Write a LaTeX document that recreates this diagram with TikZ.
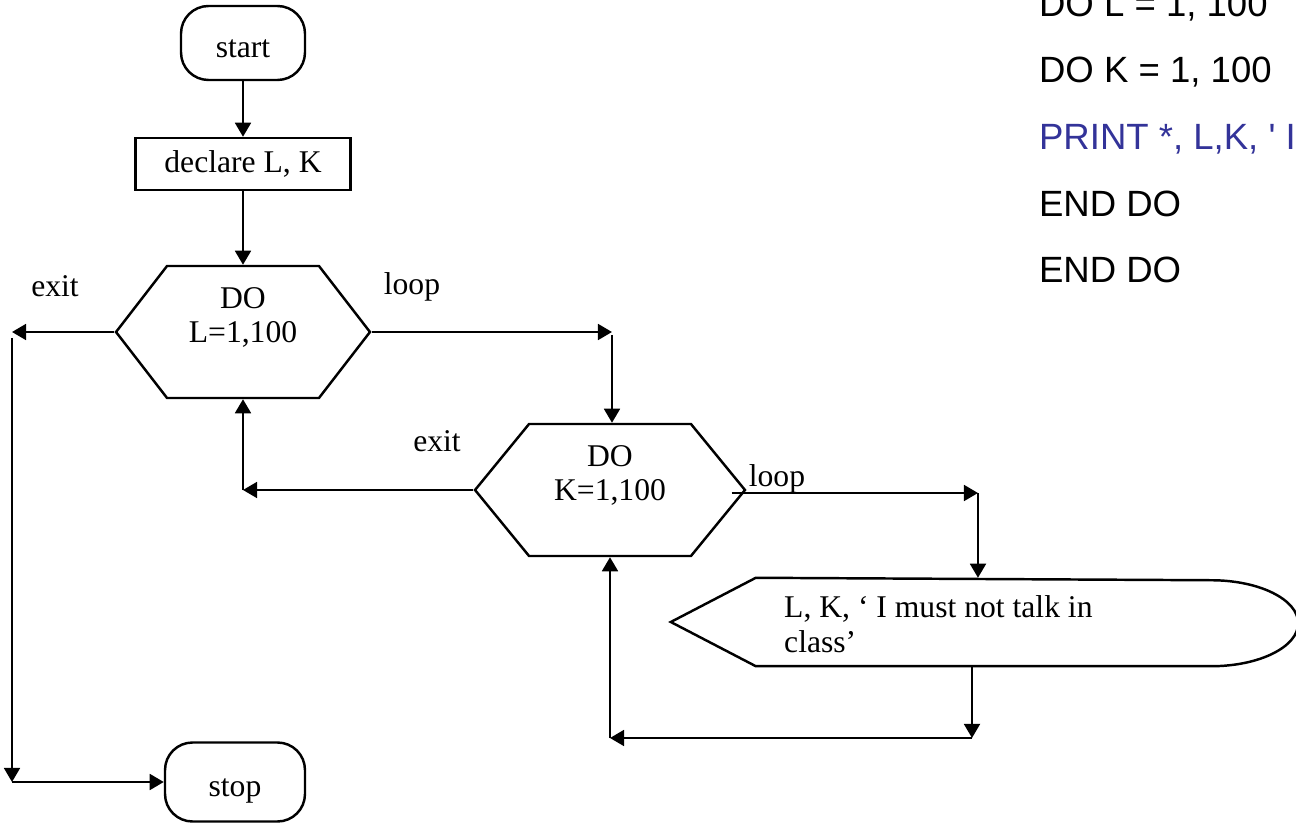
\documentclass[tikz,border=0pt]{standalone}
\usepackage{fontspec}
\setmainfont{Liberation Serif}
\newfontfamily\codefont{Liberation Sans}
\usetikzlibrary{arrows.meta,shapes.symbols}
\definecolor{printblue}{RGB}{51,51,153}
\begin{document}
\begin{tikzpicture}[x=0.02cm, y=-0.02cm, line width=1.4pt,
    font=\fontsize{18}{19.5}\selectfont,
    arr/.style={-{Triangle[length=8pt,width=9pt]}},
    terminal/.style={draw, rounded corners=0.55cm, inner sep=0pt, text height=16pt, text depth=0pt},
    doloop/.style={draw, signal, signal to=west and east, align=center,
      minimum height=2.64cm, inner sep=0pt},
    codeline/.style={anchor=base west, font=\codefont\fontsize{20.8}{25}\selectfont}]
    \useasboundingbox (0,0) rectangle (1296,824);
    % flowchart
    \node[terminal, minimum width=2.48cm, minimum height=1.48cm] (start) at (243,43) {start};
    \node[draw, minimum width=4.3cm, minimum height=1.04cm, inner sep=0pt] (decl) at (243,164) {declare L, K};
    \node[doloop, minimum width=5.08cm, signal pointer angle=104.6] (doL) at (243,332) {DO\\L=1,100\\\mbox{}};
    \node[doloop, minimum width=5.4cm, signal pointer angle=101.4] (doK) at (610,490) {DO\\K=1,100\\\mbox{}};
    \node[minimum width=9.06cm, minimum height=1.72cm, inner sep=0pt] (disp) at (983.5,622) {};
    \draw (disp.north west) -- ([xshift=-1.7cm]disp.west) -- (disp.south west) -- (disp.south east)
      arc[start angle=-90, end angle=90, x radius=1.74cm, y radius=0.86cm] -- cycle;
    \node[anchor=base west, align=left, inner sep=0pt] (msg) at (783,652) {L, K, ` I must not talk in\\class'};
    \node[terminal, minimum width=2.8cm, minimum height=1.58cm] (stop) at (235,782) {stop};
    % labels
    \node (exitL) at (55,286) {exit};
    \node (loopL) at (412,287) {loop};
    \node (exitK) at (437,441) {exit};
    \node (loopK) at (777,479) {loop};
    % connectors
    \coordinate (exL) at (12,332);
    \coordinate (exB) at (12,782);
    \coordinate (lpL) at (612,332);
    \coordinate (exK) at (doL.south |- doK.west);
    \coordinate (lpK) at (978,493);
    \coordinate (rt) at (972,738);
    \coordinate (bk) at (doK.south |- rt);
    \draw[arr] (start.south) -- (decl.north);
    \draw[arr] (decl.south) -- (doL.north);
    \draw[arr] (doL.west) -- (exL);
    \draw[arr] ([yshift=-0.12cm]exL) -- (exB);
    \draw[arr] (exB) -- (stop.west);
    \draw[arr] (doL.east) -- (lpL);
    \draw[arr] ([yshift=-0.06cm]lpL) -- (lpL |- doK.north);
    \draw[arr] (doK.west) -- (exK);
    \draw[arr] (exK) -- (doL.south);
    \draw[arr] ([xshift=-0.3cm]doK.east |- lpK) -- (lpK);
    \draw[arr] (lpK) -- (lpK |- disp.north);
    \draw[arr] (rt |- disp.south) -- (rt);
    \draw[arr] (rt) -- (bk);
    \draw[arr] (bk) -- (doK.south);
    % code
    \node[codeline] (c1) at (1032,17) {DO L = 1, 100};
    \node[codeline] (c2) at (1032,83) {DO K = 1, 100};
    \node[codeline, text=printblue] (c3) at (1032,150) {PRINT *, L,K, \textquotesingle\ I};
    \node[codeline] (c4) at (1032,217) {END DO};
    \node[codeline] (c5) at (1032,283) {END DO};
\end{tikzpicture}
\end{document}
